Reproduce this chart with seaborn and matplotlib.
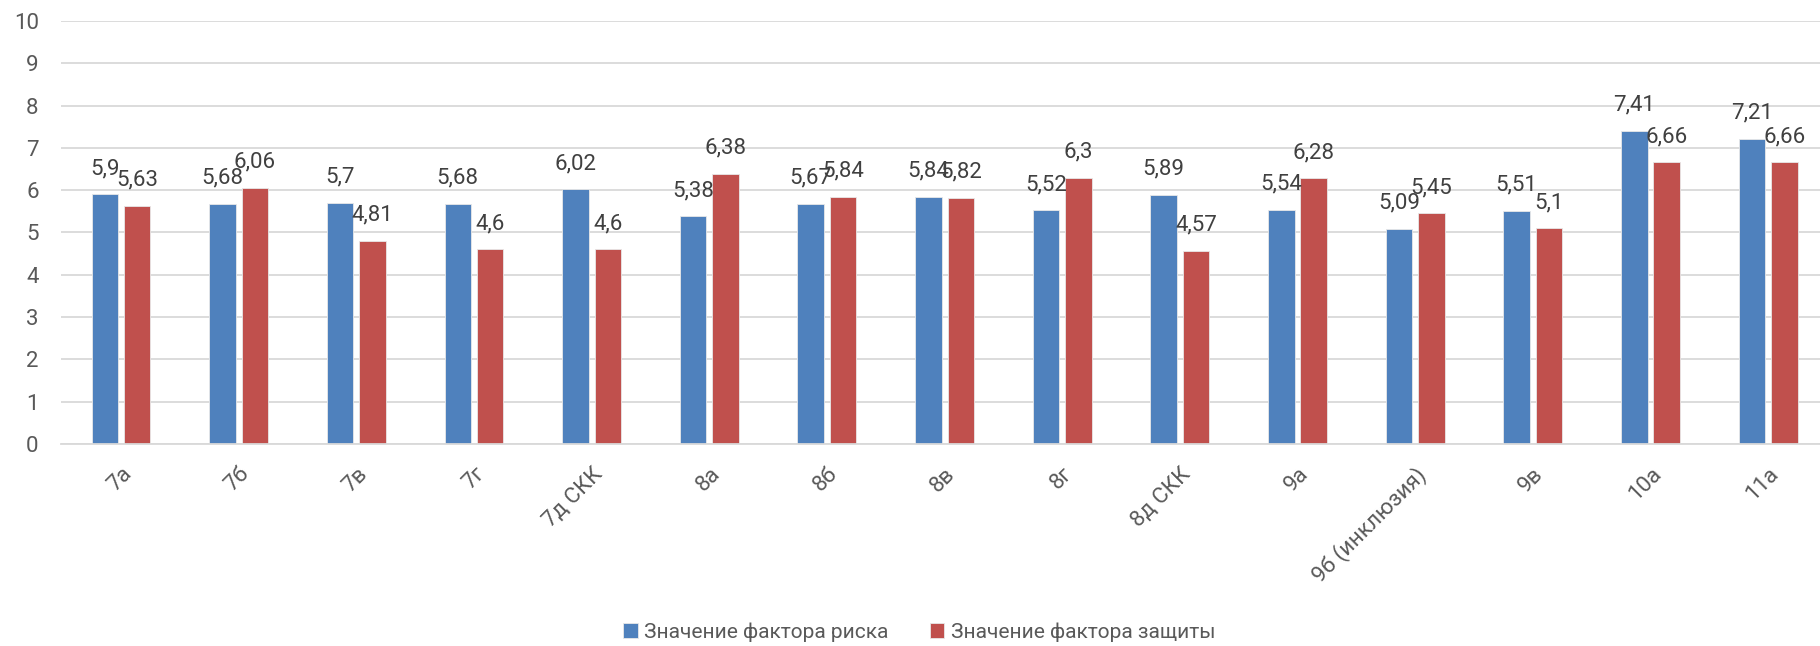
import pandas as pd
import matplotlib
matplotlib.use('Agg')
import matplotlib.pyplot as plt
import seaborn as sns

# Данные диаграммы
classes = ['7а', '7б', '7в', '7г', '7д СКК', '8а', '8б', '8в', '8г', '8д СКК',
           '9а', '9б (инклюзия)', '9в', '10а', '11а']
risk = [5.9, 5.68, 5.7, 5.68, 6.02, 5.38, 5.67, 5.84, 5.52, 5.89,
        5.54, 5.09, 5.51, 7.41, 7.21]
protect = [5.63, 6.06, 4.81, 4.6, 4.6, 6.38, 5.84, 5.82, 6.3, 4.57,
           6.28, 5.45, 5.1, 6.66, 6.66]
series_names = ['Значение фактора риска', 'Значение фактора защиты']
colors = ['#4F81BD', '#C0504D']

sns.set_style('white')
plt.rcParams['font.family'] = ['Roboto', 'DejaVu Sans']

df = pd.DataFrame({
    'класс': classes * 2,
    'значение': risk + protect,
    'ряд': [series_names[0]] * len(classes) + [series_names[1]] * len(classes),
})

fig = plt.figure(figsize=(18.2, 6.46), dpi=100)
ax = fig.add_axes([0.0335, 0.3127, 0.9665, 0.6548])

sns.barplot(data=df, x='класс', y='значение', hue='ряд', palette=colors,
            saturation=1, width=0.55, gap=0.18, edgecolor='#e8e8e8',
            linewidth=0.6, ax=ax, legend=True)

# подписи значений
for cont in ax.containers:
    vals = [b.get_height() for b in cont]
    labs = [f'{v:g}'.replace('.', ',') for v in vals]
    ax.bar_label(cont, labels=labs, padding=11, fontsize=16, color='#404040')

ax.set_ylim(0, 10)
ax.set_yticks(range(0, 11))
ax.set_xlim(-0.51, 14.44)
ax.yaxis.grid(True, color='#D9D9D9', linewidth=1.3)
ax.set_axisbelow(True)
for s in ['top', 'right', 'left']:
    ax.spines[s].set_visible(False)
ax.spines['bottom'].set_color('#D9D9D9')
ax.spines['bottom'].set_linewidth(1.3)
ax.tick_params(axis='both', length=0, labelsize=16, labelcolor='#595959')
ax.tick_params(axis='y', pad=16)
ax.set_xlabel('')
ax.set_ylabel('')
plt.setp(ax.get_xticklabels(), rotation=45, ha='right', rotation_mode='anchor')
ax.tick_params(axis='x', pad=14)

handles, labels = ax.get_legend_handles_labels()
ax.legend(handles, labels, loc='center', bbox_to_anchor=(0.505, 0.022),
          bbox_transform=fig.transFigure, ncol=2, frameon=False,
          fontsize=15, labelcolor='#595959', handlelength=0.7, handleheight=0.7,
          handletextpad=0.3, columnspacing=2.0)

fig.savefig('out.png', dpi=100)
